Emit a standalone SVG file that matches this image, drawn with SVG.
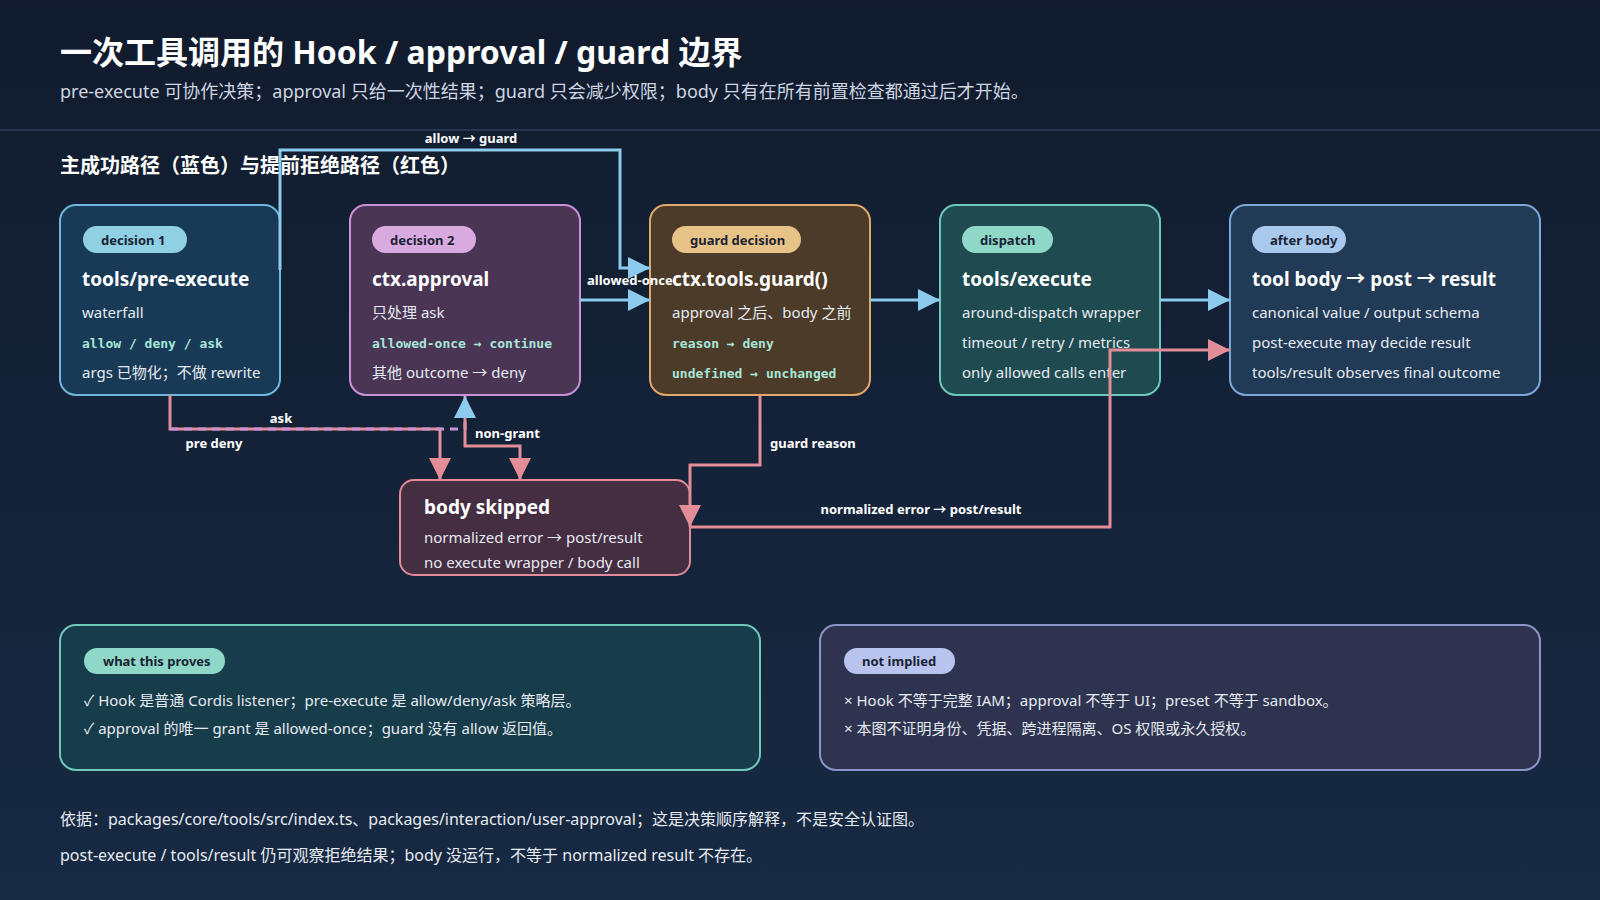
<svg xmlns="http://www.w3.org/2000/svg" width="1600" height="900" viewBox="0 0 1600 900">
<defs>
<linearGradient id="bg" x1="0" y1="0" x2="0" y2="1"><stop offset="0" stop-color="#111b2d"/><stop offset="1" stop-color="#172a43"/></linearGradient>
<marker id="ab" viewBox="0 0 10 10" refX="10" refY="5" markerWidth="22" markerHeight="24" markerUnits="userSpaceOnUse" orient="auto"><path d="M0,0L10,5L0,10z" fill="#8ccbee"/></marker>
<marker id="ap" viewBox="0 0 10 10" refX="10" refY="5" markerWidth="22" markerHeight="24" markerUnits="userSpaceOnUse" orient="auto"><path d="M0,0L10,5L0,10z" fill="#e28d98"/></marker>
<style>
text{font-family:"Noto Sans","Noto Sans CJK SC",sans-serif;}
.t{font-size:19px;font-weight:700;fill:#fff}
.l{font-size:15px;fill:#e6eaf2}
.c{font-family:"DejaVu Sans Mono","Liberation Mono","Noto Sans CJK SC",monospace;font-size:13px;font-weight:700;fill:#a8e6d8}
.p{font-size:13px;font-weight:700;fill:#1a2333}
.e{font-size:13px;font-weight:700;fill:#fff}
.b{fill:none;stroke:#8ccbee;stroke-width:3}
.r{fill:none;stroke:#e28d98;stroke-width:3}
</style>
</defs>
<rect width="1600" height="900" fill="url(#bg)"/>
<text x="60" y="64" font-size="32" font-weight="700" fill="#fff">一次工具调用的 Hook / approval / guard 边界</text>
<text x="60" y="98" font-size="18" fill="#cdd5e2">pre-execute 可协作决策；approval 只给一次性结果；guard 只会减少权限；body 只有在所有前置检查都通过后才开始。</text>
<line x1="0" y1="130" x2="1600" y2="130" stroke="#263650" stroke-width="2"/>
<text x="60" y="173" font-size="20" font-weight="700" fill="#fff">主成功路径（蓝色）与提前拒绝路径（红色）</text>

<g id="n1"><rect x="60" y="205" width="220" height="190" rx="16" fill="#183a56" stroke="#6fb6dd" stroke-width="2"/>
<rect x="83" y="226" width="104" height="27" rx="13.5" fill="#8fd0e4"/><text class="p" x="101" y="245">decision 1</text>
<text class="t" x="82" y="286">tools/pre-execute</text><text class="l" x="82" y="318">waterfall</text>
<text class="c" x="82" y="348">allow / deny / ask</text><text class="l" x="82" y="378">args 已物化；不做 rewrite</text></g>
<g id="n2"><rect x="350" y="205" width="230" height="190" rx="16" fill="#4a3555" stroke="#c992d6" stroke-width="2"/>
<rect x="372" y="226" width="104" height="27" rx="13.5" fill="#d8aadf"/><text class="p" x="390" y="245">decision 2</text>
<text class="t" x="372" y="286">ctx.approval</text><text class="l" x="372" y="318">只处理 ask</text>
<text class="c" x="372" y="348">allowed-once → continue</text><text class="l" x="372" y="378">其他 outcome → deny</text></g>
<g id="n3"><rect x="650" y="205" width="220" height="190" rx="16" fill="#4b3b28" stroke="#e0a96a" stroke-width="2"/>
<rect x="672" y="226" width="129" height="27" rx="13.5" fill="#e8c388"/><text class="p" x="690" y="245">guard decision</text>
<text class="t" x="672" y="286">ctx.tools.guard()</text><text class="l" x="672" y="318">approval 之后、body 之前</text>
<text class="c" x="672" y="348">reason → deny</text><text class="c" x="672" y="378">undefined → unchanged</text></g>
<g id="n4"><rect x="940" y="205" width="220" height="190" rx="16" fill="#1e4a50" stroke="#6ec8b8" stroke-width="2"/>
<rect x="962" y="226" width="91" height="27" rx="13.5" fill="#8fd8c8"/><text class="p" x="980" y="245">dispatch</text>
<text class="t" x="962" y="286">tools/execute</text><text class="l" x="962" y="318">around-dispatch wrapper</text>
<text class="l" x="962" y="348">timeout / retry / metrics</text><text class="l" x="962" y="378">only allowed calls enter</text></g>
<g id="n5"><rect x="1230" y="205" width="310" height="190" rx="16" fill="#213a55" stroke="#7aa8d8" stroke-width="2"/>
<rect x="1252" y="226" width="94" height="27" rx="13.5" fill="#a8c8ec"/><text class="p" x="1270" y="245">after body</text>
<text class="t" x="1252" y="286">tool body → post → result</text><text class="l" x="1252" y="318">canonical value / output schema</text>
<text class="l" x="1252" y="348">post-execute may decide result</text><text class="l" x="1252" y="378">tools/result observes final outcome</text></g>
<g id="n6"><rect x="400" y="480" width="290" height="95" rx="14" fill="#452d42" stroke="#e08a9a" stroke-width="2"/>
<text class="t" x="424" y="514">body skipped</text><text class="l" x="424" y="543">normalized error → post/result</text><text class="l" x="424" y="568">no execute wrapper / body call</text></g>

<g id="edges">
<path class="b" d="M280,270 V150 H620 V268 H650" marker-end="url(#ab)"/>
<text class="e" x="471" y="143" text-anchor="middle">allow → guard</text>
<path class="b" d="M580,300 H650" marker-end="url(#ab)"/>
<path class="b" d="M870,300 H940" marker-end="url(#ab)"/>
<path class="b" d="M1160,300 H1230" marker-end="url(#ab)"/>
<path class="r" d="M170,395 V429 H440 V480" marker-end="url(#ap)"/>
<text class="e" x="214" y="448" text-anchor="middle">pre deny</text>
<path d="M170,429 H465 V396" fill="none" stroke="#c992d6" stroke-width="3" stroke-dasharray="8 6" marker-end="url(#ab)"/>
<text class="e" x="281" y="423" text-anchor="middle">ask</text>
<path class="r" d="M465,418 V446 H520 V480" marker-end="url(#ap)"/>
<text class="e" x="475" y="438">non-grant</text>
<path class="r" d="M760,395 V465 H690 V527" marker-end="url(#ap)"/>
<text class="e" x="770" y="448">guard reason</text>
<path class="r" d="M690,527 H1110 V350 H1230" marker-end="url(#ap)"/>
<text class="e" x="921" y="514" text-anchor="middle">normalized error → post/result</text>
<text class="e" x="587" y="285">allowed-once</text>
</g>

<g id="proves"><rect x="60" y="625" width="700" height="145" rx="16" fill="#173c4a" stroke="#6fc8b8" stroke-width="2"/>
<rect x="84" y="648" width="141" height="26" rx="13" fill="#8fd8c8"/><text class="p" x="103" y="666">what this proves</text>
<text class="l" x="84" y="706">✓ Hook 是普通 Cordis listener；pre-execute 是 allow/deny/ask 策略层。</text>
<text class="l" x="84" y="734">✓ approval 的唯一 grant 是 allowed-once；guard 没有 allow 返回值。</text></g>
<g id="notimplied"><rect x="820" y="625" width="720" height="145" rx="16" fill="#2e3350" stroke="#8b93c9" stroke-width="2"/>
<rect x="844" y="648" width="111" height="26" rx="13" fill="#b8c4ee"/><text class="p" x="862" y="666">not implied</text>
<text class="l" x="844" y="706">× Hook 不等于完整 IAM；approval 不等于 UI；preset 不等于 sandbox。</text>
<text class="l" x="844" y="734">× 本图不证明身份、凭据、跨进程隔离、OS 权限或永久授权。</text></g>
<text x="60" y="825" font-size="16" fill="#e6eaf2">依据：packages/core/tools/src/index.ts、packages/interaction/user-approval；这是决策顺序解释，不是安全认证图。</text>
<text x="60" y="861" font-size="16" fill="#e6eaf2">post-execute / tools/result 仍可观察拒绝结果；body 没运行，不等于 normalized result 不存在。</text>
</svg>
